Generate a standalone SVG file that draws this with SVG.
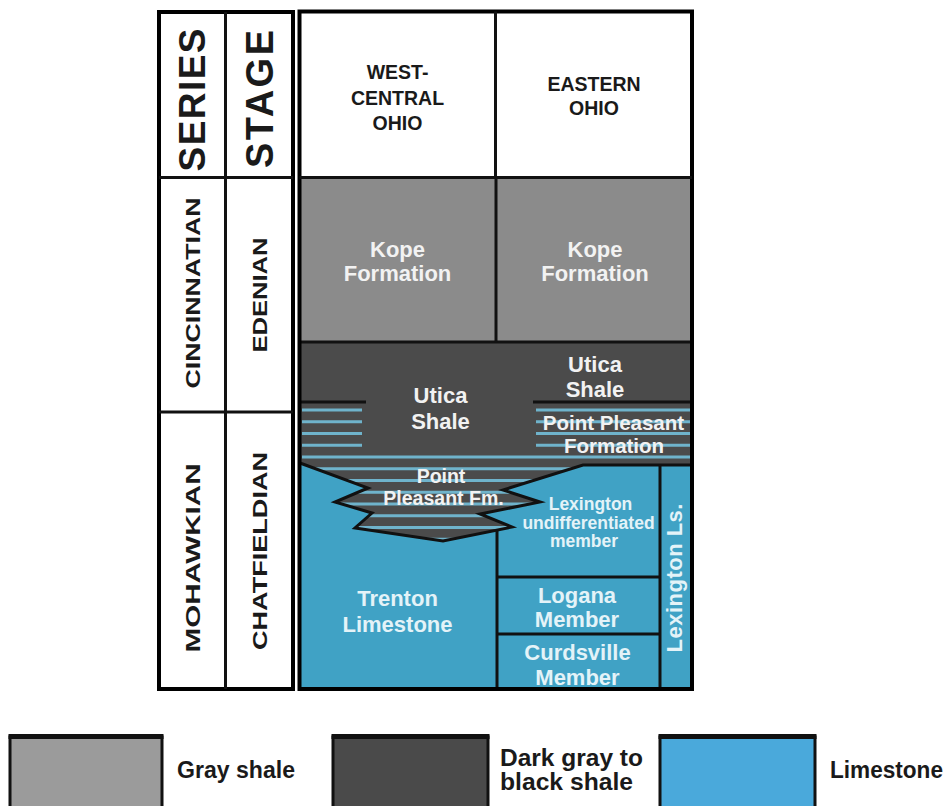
<svg xmlns="http://www.w3.org/2000/svg" width="950" height="806" viewBox="0 0 950 806">
<defs>
<style>
.b{font-family:"Liberation Sans",Arial,Helvetica,sans-serif;font-weight:bold}
.hd{font-size:19.5px;fill:#1a1a1a;text-anchor:middle}
.side{fill:#1a1a1a;text-anchor:middle}
.w{fill:#f2f2f2;text-anchor:middle}
.lw{fill:#e4f3f8;text-anchor:middle}
.frame{fill:none;stroke:#000;stroke-width:4}
.ln{stroke:#111;stroke-width:3;fill:none}
.st{stroke:#6fb3cb;stroke-width:3}
.lg{font-family:"Liberation Sans Narrow","Liberation Sans",Arial,sans-serif;font-weight:bold;font-size:23px;fill:#1a1a1a}
.box{stroke:#111;stroke-width:3}
</style>
<clipPath id="wedgeClip"><polygon points="300,460 583,460 583,465 503,490 540,502 480,514 512,527 443,541 355,528 372,513 335,502 368,488 300,464"/></clipPath>
</defs>
<rect x="0" y="0" width="950" height="806" fill="#fff"/>

<g id="left-table">
<rect class="frame" x="159" y="12" width="134" height="677" fill="#fff"/>
<line class="ln" x1="225.5" y1="12" x2="225.5" y2="689" stroke-width="4"/>
<line class="ln" x1="159" y1="177.5" x2="293" y2="177.5" stroke-width="4"/>
<line class="ln" x1="159" y1="412" x2="293" y2="412" stroke-width="4"/>
<text class="b side" font-size="37" transform="translate(192,100) rotate(-90)" x="0" y="13" textLength="143" lengthAdjust="spacing">SERIES</text>
<text class="b side" font-size="38" transform="translate(259,99) rotate(-90)" x="0" y="13.5" textLength="138" lengthAdjust="spacing">STAGE</text>
<text class="b side" font-size="21" transform="translate(192,293) rotate(-90)" x="0" y="7.5" textLength="191" lengthAdjust="spacingAndGlyphs">CINCINNATIAN</text>
<text class="b side" font-size="21" transform="translate(259,295) rotate(-90)" x="0" y="7.5" textLength="115" lengthAdjust="spacingAndGlyphs">EDENIAN</text>
<text class="b side" font-size="21" transform="translate(192,558) rotate(-90)" x="0" y="7.5" textLength="189" lengthAdjust="spacingAndGlyphs">MOHAWKIAN</text>
<text class="b side" font-size="21" transform="translate(259,551) rotate(-90)" x="0" y="7.5" textLength="198" lengthAdjust="spacingAndGlyphs">CHATFIELDIAN</text>
</g>

<g id="header">
<text class="b hd" x="397.5" y="79">WEST-</text>
<text class="b hd" x="397.5" y="105">CENTRAL</text>
<text class="b hd" x="397.5" y="130">OHIO</text>
<text class="b hd" x="594" y="91">EASTERN</text>
<text class="b hd" x="594" y="115">OHIO</text>
</g>

<g id="kope">
<rect x="300" y="177.5" width="392" height="164.5" fill="#8b8b8b"/>
<text class="b w" font-size="22" x="397.5" y="257">Kope</text>
<text class="b w" font-size="22" x="397.5" y="281">Formation</text>
<text class="b w" font-size="22" x="595" y="257">Kope</text>
<text class="b w" font-size="22" x="595" y="281">Formation</text>
</g>

<g id="utica">
<rect x="300" y="342" width="392" height="123" fill="#4b4b4b"/>
</g>

<g id="trenton-lexington-limestone">
<rect x="300" y="465" width="392" height="224" fill="#40a2c5"/>
</g>

<g id="point-pleasant">
<line class="st" x1="302" y1="410" x2="362" y2="410"/>
<line class="st" x1="302" y1="421.75" x2="362" y2="421.75"/>
<line class="st" x1="302" y1="433.5" x2="362" y2="433.5"/>
<line class="st" x1="302" y1="445.25" x2="362" y2="445.25"/>
<line class="st" x1="536" y1="410" x2="690" y2="410"/>
<line class="st" x1="536" y1="421.75" x2="690" y2="421.75"/>
<line class="st" x1="536" y1="433.5" x2="690" y2="433.5"/>
<line class="st" x1="536" y1="445.25" x2="690" y2="445.25"/>
<line class="st" x1="302" y1="457" x2="690" y2="457"/>
<polygon points="300,460 583,460 583,465 503,490 540,502 480,514 512,527 443,541 355,528 372,513 335,502 368,488 300,464" fill="#4b4b4b"/>
<g clip-path="url(#wedgeClip)">
<line class="st" x1="300" y1="468.75" x2="600" y2="468.75"/>
<line class="st" x1="300" y1="480.5" x2="600" y2="480.5"/>
<line class="st" x1="300" y1="492.25" x2="600" y2="492.25"/>
<line class="st" x1="300" y1="504" x2="600" y2="504"/>
<line class="st" x1="300" y1="515.75" x2="600" y2="515.75"/>
<line class="st" x1="300" y1="527.5" x2="600" y2="527.5"/>
<line class="st" x1="300" y1="539.25" x2="600" y2="539.25"/>
</g>
</g>

<g id="connectors">
<line class="ln" x1="300" y1="342" x2="692" y2="342" stroke-width="2.5"/>
<line class="ln" x1="496" y1="177.5" x2="496" y2="342"/>
<line class="ln" x1="300" y1="402" x2="366" y2="402"/>
<line class="ln" x1="533" y1="402" x2="692" y2="402"/>
<polyline class="ln" points="300,463 368,488 335,502 372,513 355,528 443,541 512,527 480,514 540,502 503,490 583,465 692,465"/>
<line class="ln" x1="497" y1="530" x2="497" y2="689"/>
<line class="ln" x1="660" y1="465" x2="660" y2="689"/>
<line class="ln" x1="497" y1="577" x2="660" y2="577"/>
<line class="ln" x1="497" y1="634" x2="660" y2="634"/>
</g>

<g id="labels">
<text class="b w" font-size="22" x="440.5" y="403">Utica</text>
<text class="b w" font-size="22" x="440.5" y="429">Shale</text>
<text class="b w" font-size="22" x="595" y="372">Utica</text>
<text class="b w" font-size="22" x="595" y="396.5">Shale</text>
<text class="b w" font-size="20.5" x="613.5" y="430">Point Pleasant</text>
<text class="b w" font-size="20.5" x="614" y="453">Formation</text>
<text class="b w" font-size="19.5" x="441" y="483">Point</text>
<text class="b w" font-size="19.5" x="443.5" y="505">Pleasant Fm.</text>
<text class="b lw" font-size="17.5" x="590.5" y="510">Lexington</text>
<text class="b lw" font-size="17.5" x="588.5" y="528.5">undifferentiated</text>
<text class="b lw" font-size="17.5" x="584" y="547">member</text>
<text class="b lw" font-size="22" x="397.5" y="606">Trenton</text>
<text class="b lw" font-size="22" x="397.5" y="632">Limestone</text>
<text class="b lw" font-size="22" x="577" y="603">Logana</text>
<text class="b lw" font-size="22" x="577" y="627">Member</text>
<text class="b lw" font-size="22" x="577.5" y="660">Curdsville</text>
<text class="b lw" font-size="22" x="577.5" y="685">Member</text>
<text class="b lw" font-size="22" transform="translate(674,578) rotate(-90)" x="0" y="8" textLength="149" lengthAdjust="spacing">Lexington Ls.</text>
</g>

<g id="main-frame">
<rect class="frame" x="299.5" y="11.5" width="392.5" height="677.5"/>
<line class="ln" x1="495.5" y1="11.5" x2="495.5" y2="177.5" stroke-width="4"/>
<line class="ln" x1="299.5" y1="177.5" x2="692" y2="177.5" stroke-width="4"/>
</g>

<g id="legend-gray-shale">
<rect class="box" x="10" y="737" width="152" height="80" fill="#9b9b9b"/>
<line x1="8.5" y1="736.5" x2="163.5" y2="736.5" stroke="#111" stroke-width="5"/>
<text class="lg" x="177" y="778" textLength="118" lengthAdjust="spacingAndGlyphs">Gray shale</text>
</g>
<g id="legend-dark-shale">
<rect class="box" x="333" y="737" width="155" height="80" fill="#4a4a4a"/>
<line x1="331.5" y1="736.5" x2="489.5" y2="736.5" stroke="#111" stroke-width="5"/>
<text class="lg" x="500" y="766" textLength="143" lengthAdjust="spacingAndGlyphs">Dark gray to</text>
<text class="lg" x="500" y="790" textLength="133" lengthAdjust="spacingAndGlyphs">black shale</text>
</g>
<g id="legend-limestone">
<rect class="box" x="660" y="737" width="155" height="80" fill="#4aa9db"/>
<line x1="658.5" y1="736.5" x2="816.5" y2="736.5" stroke="#111" stroke-width="5"/>
<text class="lg" x="830" y="778" textLength="113" lengthAdjust="spacingAndGlyphs">Limestone</text>
</g>
</svg>
